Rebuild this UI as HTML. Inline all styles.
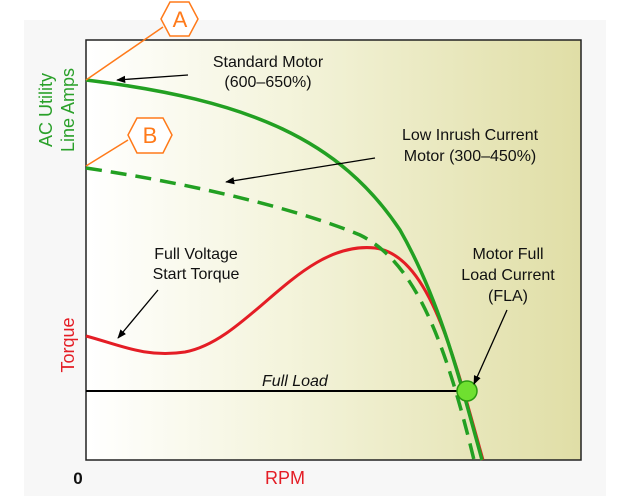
<!DOCTYPE html>
<html><head><style>
body{margin:0;width:640px;height:496px;background:#fff;overflow:hidden;font-family:"Liberation Sans",sans-serif}
</style></head><body>
<svg width="640" height="496" viewBox="0 0 640 496" xmlns="http://www.w3.org/2000/svg" style="position:absolute;left:0;top:0">
<defs>
<linearGradient id="g" x1="0" x2="1" y1="0" y2="0">
<stop offset="0" stop-color="#ffffff"/>
<stop offset="0.4" stop-color="#f4f4dc"/>
<stop offset="1" stop-color="#e0dea6"/>
</linearGradient>
<marker id="ar" viewBox="0 0 10 10" refX="9" refY="5" markerWidth="7" markerHeight="7" orient="auto"><path d="M0,1 L10,5 L0,9 z" fill="#000"/></marker>
</defs>
<rect x="24" y="20" width="582" height="476" fill="#f7f7f7"/>
<rect x="86" y="40" width="495" height="420" fill="url(#g)" stroke="#222" stroke-width="1.5"/>
<line x1="86" y1="391" x2="462" y2="391" stroke="#000" stroke-width="2"/>
<text x="262" y="386" font-size="16" font-style="italic" fill="#111">Full Load</text>
<path d="M86,336 C120,345 145,358 185,352 C250,340 300,240 375,248 C430,255 455,360 483,460" fill="none" stroke="#e41d25" stroke-width="3"/>
<path d="M86,168 C200,185 300,210 360,235 C415,262 445,340 474,460" fill="none" stroke="#22a022" stroke-width="3.5" stroke-dasharray="16,9"/>
<path d="M86,80 C250,100 340,140 400,230 C440,300 460,380 482,460" fill="none" stroke="#22a022" stroke-width="3.5"/>
<circle cx="467" cy="391" r="10" fill="#6fe030" stroke="#2a9a10" stroke-width="1.5"/>
<line x1="188" y1="75" x2="117" y2="80" stroke="#000" stroke-width="1.3" marker-end="url(#ar)"/>
<line x1="375" y1="158" x2="226" y2="182" stroke="#000" stroke-width="1.3" marker-end="url(#ar)"/>
<line x1="158" y1="290" x2="118" y2="338" stroke="#000" stroke-width="1.3" marker-end="url(#ar)"/>
<line x1="507" y1="310" x2="474" y2="384" stroke="#000" stroke-width="1.3" marker-end="url(#ar)"/>
<g font-size="16" fill="#111" text-anchor="middle">
<text x="268" y="67">Standard Motor</text><text x="268" y="87">(600–650%)</text>
<text x="470" y="140">Low Inrush Current</text><text x="470" y="161">Motor (300–450%)</text>
<text x="196" y="259">Full Voltage</text><text x="196" y="279">Start Torque</text>
<text x="508" y="259">Motor Full</text><text x="508" y="280">Load Current</text><text x="508" y="301">(FLA)</text>
</g>
<g font-size="18" fill="#2aa02a" text-anchor="middle">
<text transform="translate(52,110) rotate(-90)">AC Utility</text>
<text transform="translate(74,110) rotate(-90)">Line Amps</text>
</g>
<text transform="translate(74,345) rotate(-90)" font-size="18" fill="#e41d25" text-anchor="middle">Torque</text>
<text x="285" y="484" font-size="18" fill="#e41d25" text-anchor="middle">RPM</text>
<text x="78" y="484" font-size="17" font-weight="bold" fill="#111" text-anchor="middle">0</text>
<g stroke="#ff7a1a" stroke-width="1.5" fill="none">
<line x1="86" y1="80" x2="163" y2="27"/>
<polygon points="161,19 170,2 189,2 198,19 189,36 170,36" fill="#fff"/>
<line x1="86" y1="166" x2="128" y2="140"/>
<polygon points="128,135 137,118 163,118 172,135 163,153 137,153" fill="#fff"/>
</g>
<g font-size="22" fill="#ff7a1a" text-anchor="middle">
<text x="180" y="27">A</text><text x="150" y="143">B</text>
</g>
</svg>
</body></html>
